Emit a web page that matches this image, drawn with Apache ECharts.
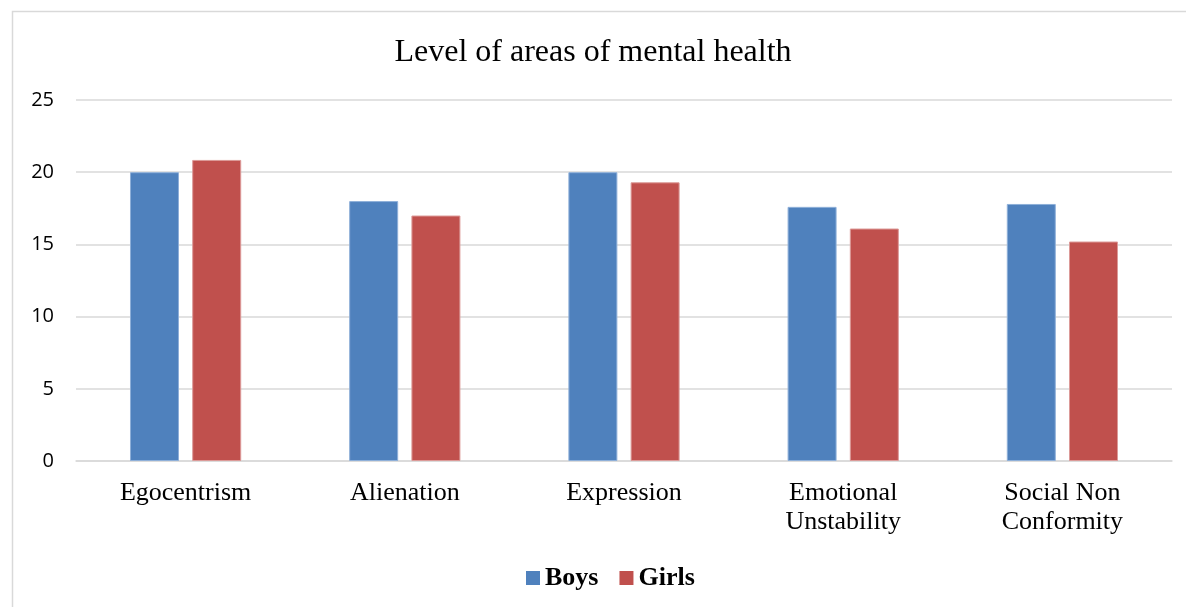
<!DOCTYPE html>
<html lang="en">
<head>
  <meta charset="utf-8" />
  <title>Level of areas of mental health</title>
  <script src="https://cdn.jsdelivr.net/npm/echarts@6/dist/echarts.min.js"></script>
  <style>
    html, body { margin: 0; padding: 0; background: #fff; }
    #main { width: 1186px; height: 607px; }
  </style>
</head>
<body>
<div id="main"></div>
<script type="text/javascript">
  let categories = ['Egocentrism', 'Alienation', 'Expression', 'Emotional\nUnstability', 'Social Non\nConformity']
  let boys = [20.0, 18.0, 20.0, 17.6, 17.8]
  let girls = [20.85, 17.0, 19.3, 16.1, 15.2]

  let colorBoys = '#4F81BD'
  let colorGirls = '#C0504D'
  let serif = '"Liberation Serif", "Times New Roman", serif'

  let chart = echarts.init(document.getElementById('main'))

  chart.setOption({
    animation: false,
    title: {
      text: 'Level of areas of mental health',
      left: 'center',
      top: 32,
      textStyle: { fontFamily: serif, fontSize: 32, fontWeight: 'normal', color: '#000' }
    },
    graphic: [{
      type: 'rect',
      shape: { x: 12.5, y: 11.5, width: 1190, height: 610 },
      style: { fill: 'none', stroke: '#d9d9d9', lineWidth: 1.5 },
      silent: true
    }],
    legend: {
      bottom: 11,
      left: 521,
      itemWidth: 14,
      itemHeight: 14,
      itemGap: 21,
      icon: 'rect',
      itemStyle: { borderWidth: 0 },
      textStyle: { fontFamily: serif, fontSize: 26, fontWeight: 'bold', color: '#000', padding: [0, 0, 0, 0] },
      data: ['Boys', 'Girls']
    },
    grid: { left: 76, right: 14, top: 100, bottom: 146 },
    xAxis: {
      type: 'category',
      data: categories,
      axisTick: { show: false },
      axisLine: { lineStyle: { color: '#d9d9d9', width: 1.5 } },
      axisLabel: { fontFamily: serif, fontSize: 26, color: '#000', margin: 18, lineHeight: 29 }
    },
    yAxis: {
      type: 'value',
      min: 0,
      max: 25,
      interval: 5,
      axisLine: { show: false },
      axisTick: { show: false },
      splitLine: { lineStyle: { color: '#d9d9d9', width: 1.5 } },
      axisLabel: { fontFamily: '"Open Sans", "Noto Sans", sans-serif', fontSize: 20, color: '#000', margin: 22 }
    },
    series: [
      {
        name: 'Boys',
        type: 'bar',
        data: boys,
        barWidth: 49,
        barGap: '27%',
        itemStyle: { color: colorBoys, borderColor: '#8fb0d9', borderWidth: 1 }
      },
      {
        name: 'Girls',
        type: 'bar',
        data: girls,
        barWidth: 49,
        itemStyle: { color: colorGirls, borderColor: '#dc9a98', borderWidth: 1 }
      }
    ]
  })
</script>
</body>
</html>
